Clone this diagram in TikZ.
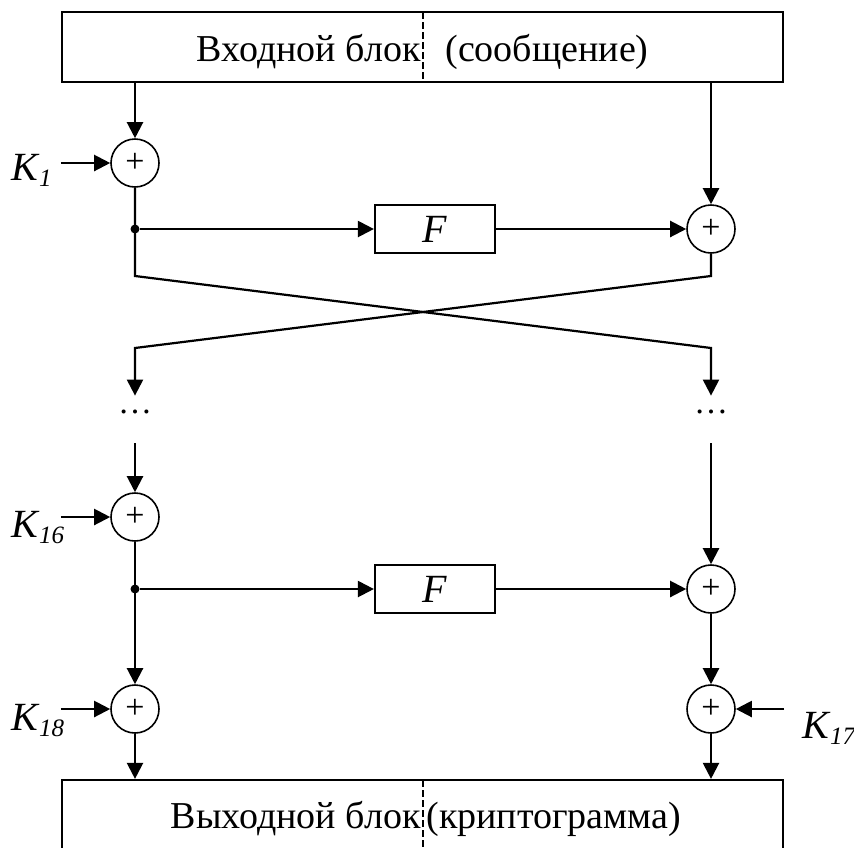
\documentclass[tikz,border=0pt]{standalone}
\usepackage{fontspec}
\setmainfont{Liberation Serif}
\usetikzlibrary{arrows.meta,positioning}

\newcommand{\keyname}[1]{\textit{K\kern0.5pt\raisebox{-3pt}{\fontsize{12.5}{12.5}\selectfont #1}}}

\begin{document}
\begin{tikzpicture}[x=0.5pt, y=-0.5pt,
    flow/.style={-{Triangle[length=8pt,width=8pt]}, line width=1.1pt},
    blk/.style={draw, line width=1.1pt, inner sep=0pt, minimum width=360.5pt, minimum height=35pt},
    xorop/.style={draw, circle, line width=0.8pt, inner sep=0pt, minimum size=24pt, text height=9.8pt, text depth=0pt, font=\fontsize{17}{17}\selectfont},
    fnbox/.style={draw, line width=1.1pt, inner sep=0pt, minimum width=60pt, minimum height=24pt, font=\fontsize{20}{20}\selectfont\itshape},
    junc/.style={circle, fill, inner sep=0pt, minimum size=4.5pt},
    keylab/.style={inner sep=0pt, font=\fontsize{20}{20}\selectfont},
    txt/.style={inner sep=0pt, font=\fontsize{19}{19}\selectfont},
    dotsnode/.style={inner sep=0pt, text height=8.5pt, text depth=15pt, font=\fontsize{17}{17}\selectfont},
    divider/.style={line width=0.75pt, dash pattern=on 3.5pt off 1.5pt}]
  \useasboundingbox (0,0) rectangle (854,847);

  % Input block
  \node[blk] (inblk) at (422.5,47) {};
  \draw[divider] (423,12) -- (423,82);
  \node[txt, anchor=base east] (inL) at (421,61) {Входной блок};
  \node[txt, anchor=base west] (inR) at (445,61) {(сообщение)};

  % Round 1
  \node[xorop] (xorA) at (135,163) {+};
  \node[xorop] (xorB) at (711,229) {+};
  \node[junc] (jA) at (135,229) {};
  \node[fnbox] (fA) at (435,229) {F};
  \node[keylab, anchor=base west] (kA) at (11,180) {\keyname{1}};
  \draw[flow] (inblk.south -| xorA) -- (xorA);
  \draw[flow] (inblk.south -| xorB) -- (xorB);
  \draw[flow] (xorA.west -| inblk.west) -- (xorA);
  \draw[flow] (jA) -- (fA);
  \draw[flow] (fA) -- (xorB);

  % Gap
  \node[dotsnode, anchor=base] (dotsL) at (135,413) {…};
  \node[dotsnode, anchor=base] (dotsR) at (711,413) {…};

  % Swap of halves
  \draw[flow] (xorA.south) -- (135,276) -- (711,348) -- (dotsR.north);
  \draw[flow] (xorB.south) -- (711,276) -- (135,348) -- (dotsL.north);

  % Round 16
  \node[xorop] (xorC) at (135,517) {+};
  \node[xorop] (xorD) at (711,589) {+};
  \node[junc] (jB) at (135,589) {};
  \node[fnbox] (fB) at (435,589) {F};
  \node[keylab, anchor=base west] (kB) at (11,537) {\keyname{16}};
  \draw[flow] (dotsL.south) -- (xorC);
  \draw[flow] (dotsR.south) -- (xorD);
  \draw[flow] (xorC.west -| inblk.west) -- (xorC);
  \draw[flow] (jB) -- (fB);
  \draw[flow] (fB) -- (xorD);

  % Final keys
  \node[xorop] (xorE) at (135,709) {+};
  \node[xorop] (xorF) at (711,709) {+};
  \node[keylab, anchor=base west] (kC) at (11,730) {\keyname{18}};
  \node[keylab, anchor=base west] (kD) at (802,738) {\keyname{17}};
  \draw[flow] (xorC) -- (xorE);
  \draw[flow] (xorD) -- (xorF);
  \draw[flow] (xorE.west -| inblk.west) -- (xorE);
  \draw[flow] (xorF.east -| inblk.east) -- (xorF);

  % Output block
  \node[blk] (outblk) at (422.5,815) {};
  \draw[divider] (423,780) -- (423,850);
  \node[txt, anchor=base east] (outL) at (421,828) {Выходной блок};
  \node[txt, anchor=base west] (outR) at (426,828) {(криптограмма)};
  \draw[flow] (xorE) -- (xorE |- outblk.north);
  \draw[flow] (xorF) -- (xorF |- outblk.north);

\end{tikzpicture}
\end{document}
